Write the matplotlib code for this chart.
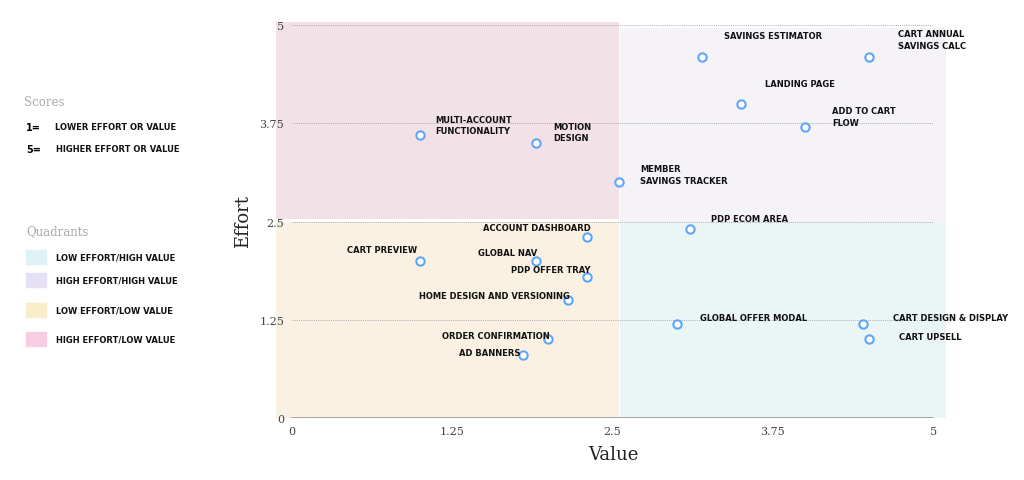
import matplotlib.pyplot as plt
from matplotlib.patches import Rectangle

# data
features = ['MULTI-ACCOUNT\nFUNCTIONALITY', 'MOTION\nDESIGN', 'MEMBER\nSAVINGS TRACKER',
            'SAVINGS ESTIMATOR', 'CART ANNUAL\nSAVINGS CALC', 'LANDING PAGE',
            'ADD TO CART\nFLOW', 'PDP ECOM AREA', 'ACCOUNT DASHBOARD', 'CART PREVIEW',
            'GLOBAL NAV', 'PDP OFFER TRAY', 'HOME DESIGN AND VERSIONING',
            'ORDER CONFIRMATION', 'AD BANNERS', 'GLOBAL OFFER MODAL',
            'CART DESIGN & DISPLAY', 'CART UPSELL']
value = [1.0, 1.9, 2.55, 3.2, 4.5, 3.5, 4.0, 3.1, 2.3, 1.0, 1.9, 2.3, 2.15, 2.0, 1.8, 3.0, 4.45, 4.5]
effort = [3.6, 3.5, 3.0, 4.6, 4.6, 4.0, 3.7, 2.4, 2.3, 2.0, 2.0, 1.8, 1.5, 1.0, 0.8, 1.2, 1.2, 1.0]

ticks = [0, 1.25, 2.5, 3.75, 5]
tick_labels = ['0', '1.25', '2.5', '3.75', '5']

quadrant_names = ['LOW EFFORT/HIGH VALUE', 'HIGH EFFORT/HIGH VALUE',
                  'LOW EFFORT/LOW VALUE', 'HIGH EFFORT/LOW VALUE']

# label placement (pixel offsets from point, alignment)
label_offsets = [(15, 10, 'left'), (18, 11, 'left'), (21, 8, 'left'), (22, 21, 'left'),
                 (29, 17, 'left'), (24, 20, 'left'), (27, 11, 'left'), (21, 11, 'left'),
                 (4, 10, 'right'), (-3, 11, 'right'), (2, 8, 'right'), (4, 7, 'right'),
                 (2, 5, 'right'), (1, 4, 'right'), (-2, 3, 'right'), (23, 6, 'left'),
                 (30, 6, 'left'), (30, 3, 'left')]

bg_colors = ['#eaf5f6', '#f5f3f8', '#faf1e3', '#f3e1e8']
swatch_colors = ['#dff3f7', '#e5e0f6', '#faedc9', '#f6cde2']

serif = 'DejaVu Serif'
lab_font = dict(family='DejaVu Sans', fontweight='bold', fontsize=6.0, color='#111111')

fig = plt.figure(figsize=(10.24, 4.81), dpi=100)
ax = fig.add_axes([276 / 1024, 62 / 481, 670 / 1024, 396 / 481])
ax.set_xlim(-0.125, 5.1)
ax.set_ylim(0, 5.04)
for s in ax.spines.values():
    s.set_visible(False)

# quadrant backgrounds
mid = 2.5
ax.add_patch(Rectangle((mid + 0.06, 0), 5.1 - mid - 0.06, mid, color=bg_colors[0], zorder=0, lw=0))
ax.add_patch(Rectangle((mid + 0.06, mid), 5.1 - mid - 0.06, 4.97 - mid, color=bg_colors[1], zorder=0, lw=0))
ax.add_patch(Rectangle((-0.125, 0), mid + 0.05 + 0.125, mid, color=bg_colors[2], zorder=0, lw=0))
ax.add_patch(Rectangle((-0.125, mid + 0.03), mid + 0.05 + 0.125, 5.04 - mid - 0.03, color=bg_colors[3], zorder=0, lw=0))

for t in ticks[1:]:
    ax.plot([0, 5], [t, t], color='#aaaaaa', lw=0.7, ls=(0, (1, 1.2)), zorder=1)
ax.plot([0, 5], [0, 0], color='#999999', lw=1.2, zorder=1)

ax.set_xticks(ticks)
ax.set_xticklabels(tick_labels)
ax.set_yticks(ticks)
ax.set_yticklabels(tick_labels)
ax.tick_params(axis='x', length=0, pad=6, labelsize=8, labelcolor='#444444')
ax.tick_params(axis='y', length=0, pad=-6, labelsize=8, labelcolor='#444444')
for lbl in ax.get_xticklabels() + ax.get_yticklabels():
    lbl.set_family(serif)

ax.scatter(value, effort, s=36, facecolor='white', edgecolor='#5ea6f7', linewidth=1.5, zorder=3)

for name, x, y, (dx, dy, ha) in zip(features, value, effort, label_offsets):
    ax.annotate(name, (x, y), xytext=(dx * 0.72, dy * 0.72), textcoords='offset points',
                ha=ha, va='center', linespacing=1.35, zorder=4, **lab_font)

fig.text(243 / 1024, 1 - 222 / 481, 'Effort', rotation=90, ha='center', va='center',
         family=serif, fontsize=13, color='#222222')
fig.text(613 / 1024, 1 - 455 / 481, 'Value', ha='center', va='center',
         family=serif, fontsize=13, color='#222222')

# left-side key
def px(x, y):
    return x / 1024, 1 - y / 481

fig.text(*px(24, 103), 'Scores', family=serif, fontsize=8.5, color='#aaaaaa', va='center')
fig.text(*px(26, 128), '1=', family='DejaVu Sans', fontweight='bold', fontsize=7, va='center')
fig.text(*px(55, 128), 'LOWER EFFORT OR VALUE', va='center', **lab_font)
fig.text(*px(26, 150), '5=', family='DejaVu Sans', fontweight='bold', fontsize=7, va='center')
fig.text(*px(56, 150), 'HIGHER EFFORT OR VALUE', va='center', **lab_font)
fig.text(*px(26, 232), 'Quadrants', family=serif, fontsize=8.5, color='#aaaaaa', va='center')

swatch_y = [258, 281, 311, 340]
for name, c, yy in zip(quadrant_names, swatch_colors, swatch_y):
    fig.patches.append(Rectangle(px(26, yy + 7), 20 / 1024, 14 / 481, color=c,
                                 transform=fig.transFigure, figure=fig))
    fig.text(*px(56, yy), name, va='center', **lab_font)

fig.savefig('out.png', dpi=100)
